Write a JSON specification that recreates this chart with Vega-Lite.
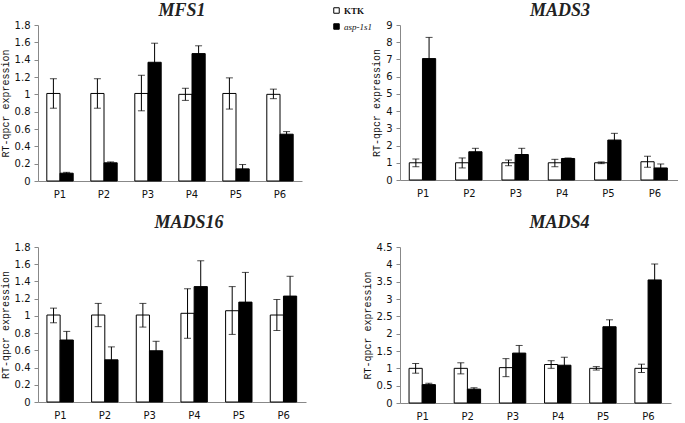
{
  "$schema": "https://vega.github.io/schema/vega-lite/v6.json",
  "background": "white",
  "padding": {"left": 0, "top": 2, "right": 0, "bottom": 0},
  "data": {"values": [
    {"gene": "MFS1", "pos": "P1", "g": "KTK", "m": 1.01, "lo": 0.84, "hi": 1.18},
    {"gene": "MFS1", "pos": "P2", "g": "KTK", "m": 1.01, "lo": 0.84, "hi": 1.18},
    {"gene": "MFS1", "pos": "P3", "g": "KTK", "m": 1.01, "lo": 0.81, "hi": 1.22},
    {"gene": "MFS1", "pos": "P4", "g": "KTK", "m": 1.0, "lo": 0.93, "hi": 1.07},
    {"gene": "MFS1", "pos": "P5", "g": "KTK", "m": 1.01, "lo": 0.83, "hi": 1.19},
    {"gene": "MFS1", "pos": "P6", "g": "KTK", "m": 1.0, "lo": 0.95, "hi": 1.06},
    {"gene": "MFS1", "pos": "P1", "g": "asp-1s1", "m": 0.09, "lo": 0.08, "hi": 0.1},
    {"gene": "MFS1", "pos": "P2", "g": "asp-1s1", "m": 0.21, "lo": 0.2, "hi": 0.22},
    {"gene": "MFS1", "pos": "P3", "g": "asp-1s1", "m": 1.37, "lo": 1.15, "hi": 1.59},
    {"gene": "MFS1", "pos": "P4", "g": "asp-1s1", "m": 1.47, "lo": 1.38, "hi": 1.56},
    {"gene": "MFS1", "pos": "P5", "g": "asp-1s1", "m": 0.14, "lo": 0.09, "hi": 0.19},
    {"gene": "MFS1", "pos": "P6", "g": "asp-1s1", "m": 0.54, "lo": 0.51, "hi": 0.57},
    {"gene": "MADS3", "pos": "P1", "g": "KTK", "m": 1.0, "lo": 0.77, "hi": 1.22},
    {"gene": "MADS3", "pos": "P2", "g": "KTK", "m": 1.0, "lo": 0.7, "hi": 1.28},
    {"gene": "MADS3", "pos": "P3", "g": "KTK", "m": 1.0, "lo": 0.83, "hi": 1.16},
    {"gene": "MADS3", "pos": "P4", "g": "KTK", "m": 1.0, "lo": 0.77, "hi": 1.2},
    {"gene": "MADS3", "pos": "P5", "g": "KTK", "m": 1.0, "lo": 0.95, "hi": 1.05},
    {"gene": "MADS3", "pos": "P6", "g": "KTK", "m": 1.06, "lo": 0.74, "hi": 1.38},
    {"gene": "MADS3", "pos": "P1", "g": "asp-1s1", "m": 7.05, "lo": 5.82, "hi": 8.28},
    {"gene": "MADS3", "pos": "P2", "g": "asp-1s1", "m": 1.64, "lo": 1.44, "hi": 1.84},
    {"gene": "MADS3", "pos": "P3", "g": "asp-1s1", "m": 1.48, "lo": 1.12, "hi": 1.84},
    {"gene": "MADS3", "pos": "P4", "g": "asp-1s1", "m": 1.25, "lo": 1.22, "hi": 1.28},
    {"gene": "MADS3", "pos": "P5", "g": "asp-1s1", "m": 2.32, "lo": 1.93, "hi": 2.71},
    {"gene": "MADS3", "pos": "P6", "g": "asp-1s1", "m": 0.7, "lo": 0.47, "hi": 0.93},
    {"gene": "MADS16", "pos": "P1", "g": "KTK", "m": 1.01, "lo": 0.92, "hi": 1.09},
    {"gene": "MADS16", "pos": "P2", "g": "KTK", "m": 1.01, "lo": 0.875, "hi": 1.145},
    {"gene": "MADS16", "pos": "P3", "g": "KTK", "m": 1.01, "lo": 0.87, "hi": 1.145},
    {"gene": "MADS16", "pos": "P4", "g": "KTK", "m": 1.03, "lo": 0.74, "hi": 1.315},
    {"gene": "MADS16", "pos": "P5", "g": "KTK", "m": 1.06, "lo": 0.785, "hi": 1.34},
    {"gene": "MADS16", "pos": "P6", "g": "KTK", "m": 1.01, "lo": 0.83, "hi": 1.19},
    {"gene": "MADS16", "pos": "P1", "g": "asp-1s1", "m": 0.72, "lo": 0.62, "hi": 0.82},
    {"gene": "MADS16", "pos": "P2", "g": "asp-1s1", "m": 0.49, "lo": 0.33, "hi": 0.64},
    {"gene": "MADS16", "pos": "P3", "g": "asp-1s1", "m": 0.595, "lo": 0.485, "hi": 0.705},
    {"gene": "MADS16", "pos": "P4", "g": "asp-1s1", "m": 1.34, "lo": 1.04, "hi": 1.64},
    {"gene": "MADS16", "pos": "P5", "g": "asp-1s1", "m": 1.16, "lo": 0.81, "hi": 1.505},
    {"gene": "MADS16", "pos": "P6", "g": "asp-1s1", "m": 1.23, "lo": 0.99, "hi": 1.46},
    {"gene": "MADS4", "pos": "P1", "g": "KTK", "m": 1.0, "lo": 0.86, "hi": 1.14},
    {"gene": "MADS4", "pos": "P2", "g": "KTK", "m": 1.0, "lo": 0.84, "hi": 1.16},
    {"gene": "MADS4", "pos": "P3", "g": "KTK", "m": 1.02, "lo": 0.76, "hi": 1.28},
    {"gene": "MADS4", "pos": "P4", "g": "KTK", "m": 1.11, "lo": 1.0, "hi": 1.22},
    {"gene": "MADS4", "pos": "P5", "g": "KTK", "m": 1.0, "lo": 0.95, "hi": 1.05},
    {"gene": "MADS4", "pos": "P6", "g": "KTK", "m": 1.0, "lo": 0.88, "hi": 1.12},
    {"gene": "MADS4", "pos": "P1", "g": "asp-1s1", "m": 0.53, "lo": 0.49, "hi": 0.57},
    {"gene": "MADS4", "pos": "P2", "g": "asp-1s1", "m": 0.4, "lo": 0.36, "hi": 0.44},
    {"gene": "MADS4", "pos": "P3", "g": "asp-1s1", "m": 1.44, "lo": 1.22, "hi": 1.66},
    {"gene": "MADS4", "pos": "P4", "g": "asp-1s1", "m": 1.09, "lo": 0.86, "hi": 1.32},
    {"gene": "MADS4", "pos": "P5", "g": "asp-1s1", "m": 2.2, "lo": 2.0, "hi": 2.4},
    {"gene": "MADS4", "pos": "P6", "g": "asp-1s1", "m": 3.55, "lo": 3.09, "hi": 4.01}
  ]},
  "columns": 2,
  "bounds": "flush",
  "spacing": {"row": 66, "column": 94},
  "concat": [
    {
      "title": {"text": "MFS1", "dx": 12, "offset": 0},
      "width": 264, "height": 156,
      "transform": [{"filter": "datum.gene === 'MFS1'"}],
      "encoding": {
        "x": {"field": "pos", "type": "nominal", "title": null, "scale": {"paddingInner": 0.4, "paddingOuter": 0.2}},
        "xOffset": {"field": "g", "type": "nominal", "sort": ["KTK", "asp-1s1"]}
      },
      "layer": [
        {"mark": {"type": "bar", "stroke": "black", "strokeWidth": 1},
         "encoding": {
           "y": {"field": "m", "type": "quantitative", "title": "RT-qpcr expression", "scale": {"domain": [0, 1.8]}, "axis": {"values": [0, 0.2, 0.4, 0.6, 0.8, 1, 1.2, 1.4, 1.6, 1.8], "format": "~g"}},
           "fill": {"field": "g", "type": "nominal", "scale": {"domain": ["KTK", "asp-1s1"], "range": ["white", "black"]},
             "legend": {"orient": "none", "legendX": 294, "legendY": -19, "title": null, "symbolType": "square", "symbolSize": 30, "symbolStrokeColor": "black", "symbolStrokeWidth": 1, "labelFont": "Liberation Serif", "labelFontSize": 9, "labelColor": "#111", "rowPadding": 5, "labelOffset": 3, "padding": 0,
               "encode": {"labels": {"update": {"fontStyle": {"signal": "datum.label === 'asp-1s1' ? 'italic' : 'normal'"}, "fontWeight": {"signal": "datum.label === 'KTK' ? 'bold' : 'normal'"}}}}}}
         }},
        {"mark": {"type": "rule", "color": "black", "strokeWidth": 1},
         "encoding": {"y": {"field": "lo", "type": "quantitative", "title": "RT-qpcr expression", "scale": {"domain": [0, 1.8]}, "axis": {"values": [0, 0.2, 0.4, 0.6, 0.8, 1, 1.2, 1.4, 1.6, 1.8], "format": "~g"}}, "y2": {"field": "hi"}}},
        {"mark": {"type": "tick", "color": "black", "size": 7, "thickness": 1},
         "encoding": {"y": {"field": "hi", "type": "quantitative", "title": "RT-qpcr expression", "scale": {"domain": [0, 1.8]}, "axis": {"values": [0, 0.2, 0.4, 0.6, 0.8, 1, 1.2, 1.4, 1.6, 1.8], "format": "~g"}}}},
        {"mark": {"type": "tick", "color": "black", "size": 7, "thickness": 1},
         "encoding": {"y": {"field": "lo", "type": "quantitative", "title": "RT-qpcr expression", "scale": {"domain": [0, 1.8]}, "axis": {"values": [0, 0.2, 0.4, 0.6, 0.8, 1, 1.2, 1.4, 1.6, 1.8], "format": "~g"}}}}
      ]
    },
    {
      "title": {"text": "MADS3", "dx": 21, "offset": 0},
      "width": 278, "height": 155,
      "transform": [{"filter": "datum.gene === 'MADS3'"}],
      "encoding": {
        "x": {"field": "pos", "type": "nominal", "title": null, "scale": {"paddingInner": 0.4, "paddingOuter": 0.2}},
        "xOffset": {"field": "g", "type": "nominal", "sort": ["KTK", "asp-1s1"]}
      },
      "layer": [
        {"mark": {"type": "bar", "stroke": "black", "strokeWidth": 1},
         "encoding": {
           "y": {"field": "m", "type": "quantitative", "title": "RT-qpcr expression", "scale": {"domain": [0, 9]}, "axis": {"values": [0, 1, 2, 3, 4, 5, 6, 7, 8, 9], "format": "~g"}},
           "fill": {"field": "g", "type": "nominal", "scale": {"domain": ["KTK", "asp-1s1"], "range": ["white", "black"]},
             "legend": {"orient": "none", "legendX": 294, "legendY": -19, "title": null, "symbolType": "square", "symbolSize": 30, "symbolStrokeColor": "black", "symbolStrokeWidth": 1, "labelFont": "Liberation Serif", "labelFontSize": 9, "labelColor": "#111", "rowPadding": 5, "labelOffset": 3, "padding": 0,
               "encode": {"labels": {"update": {"fontStyle": {"signal": "datum.label === 'asp-1s1' ? 'italic' : 'normal'"}, "fontWeight": {"signal": "datum.label === 'KTK' ? 'bold' : 'normal'"}}}}}}
         }},
        {"mark": {"type": "rule", "color": "black", "strokeWidth": 1},
         "encoding": {"y": {"field": "lo", "type": "quantitative", "title": "RT-qpcr expression", "scale": {"domain": [0, 9]}, "axis": {"values": [0, 1, 2, 3, 4, 5, 6, 7, 8, 9], "format": "~g"}}, "y2": {"field": "hi"}}},
        {"mark": {"type": "tick", "color": "black", "size": 7, "thickness": 1},
         "encoding": {"y": {"field": "hi", "type": "quantitative", "title": "RT-qpcr expression", "scale": {"domain": [0, 9]}, "axis": {"values": [0, 1, 2, 3, 4, 5, 6, 7, 8, 9], "format": "~g"}}}},
        {"mark": {"type": "tick", "color": "black", "size": 7, "thickness": 1},
         "encoding": {"y": {"field": "lo", "type": "quantitative", "title": "RT-qpcr expression", "scale": {"domain": [0, 9]}, "axis": {"values": [0, 1, 2, 3, 4, 5, 6, 7, 8, 9], "format": "~g"}}}}
      ]
    },
    {
      "title": {"text": "MADS16", "dx": 17, "offset": 10},
      "width": 268, "height": 155,
      "transform": [{"filter": "datum.gene === 'MADS16'"}],
      "encoding": {
        "x": {"field": "pos", "type": "nominal", "title": null, "scale": {"paddingInner": 0.4, "paddingOuter": 0.2}},
        "xOffset": {"field": "g", "type": "nominal", "sort": ["KTK", "asp-1s1"]}
      },
      "layer": [
        {"mark": {"type": "bar", "stroke": "black", "strokeWidth": 1},
         "encoding": {
           "y": {"field": "m", "type": "quantitative", "title": "RT-qpcr expression", "scale": {"domain": [0, 1.8]}, "axis": {"values": [0, 0.2, 0.4, 0.6, 0.8, 1, 1.2, 1.4, 1.6, 1.8], "format": "~g"}},
           "fill": {"field": "g", "type": "nominal", "scale": {"domain": ["KTK", "asp-1s1"], "range": ["white", "black"]},
             "legend": {"orient": "none", "legendX": 294, "legendY": -19, "title": null, "symbolType": "square", "symbolSize": 30, "symbolStrokeColor": "black", "symbolStrokeWidth": 1, "labelFont": "Liberation Serif", "labelFontSize": 9, "labelColor": "#111", "rowPadding": 5, "labelOffset": 3, "padding": 0,
               "encode": {"labels": {"update": {"fontStyle": {"signal": "datum.label === 'asp-1s1' ? 'italic' : 'normal'"}, "fontWeight": {"signal": "datum.label === 'KTK' ? 'bold' : 'normal'"}}}}}}
         }},
        {"mark": {"type": "rule", "color": "black", "strokeWidth": 1},
         "encoding": {"y": {"field": "lo", "type": "quantitative", "title": "RT-qpcr expression", "scale": {"domain": [0, 1.8]}, "axis": {"values": [0, 0.2, 0.4, 0.6, 0.8, 1, 1.2, 1.4, 1.6, 1.8], "format": "~g"}}, "y2": {"field": "hi"}}},
        {"mark": {"type": "tick", "color": "black", "size": 7, "thickness": 1},
         "encoding": {"y": {"field": "hi", "type": "quantitative", "title": "RT-qpcr expression", "scale": {"domain": [0, 1.8]}, "axis": {"values": [0, 0.2, 0.4, 0.6, 0.8, 1, 1.2, 1.4, 1.6, 1.8], "format": "~g"}}}},
        {"mark": {"type": "tick", "color": "black", "size": 7, "thickness": 1},
         "encoding": {"y": {"field": "lo", "type": "quantitative", "title": "RT-qpcr expression", "scale": {"domain": [0, 1.8]}, "axis": {"values": [0, 0.2, 0.4, 0.6, 0.8, 1, 1.2, 1.4, 1.6, 1.8], "format": "~g"}}}}
      ]
    },
    {
      "title": {"text": "MADS4", "dx": 24, "offset": 10},
      "width": 271, "height": 156,
      "transform": [{"filter": "datum.gene === 'MADS4'"}],
      "encoding": {
        "x": {"field": "pos", "type": "nominal", "title": null, "scale": {"paddingInner": 0.4, "paddingOuter": 0.2}},
        "xOffset": {"field": "g", "type": "nominal", "sort": ["KTK", "asp-1s1"]}
      },
      "layer": [
        {"mark": {"type": "bar", "stroke": "black", "strokeWidth": 1},
         "encoding": {
           "y": {"field": "m", "type": "quantitative", "title": "RT-qpcr expression", "scale": {"domain": [0, 4.5]}, "axis": {"values": [0, 0.5, 1, 1.5, 2, 2.5, 3, 3.5, 4, 4.5], "format": "~g"}},
           "fill": {"field": "g", "type": "nominal", "scale": {"domain": ["KTK", "asp-1s1"], "range": ["white", "black"]},
             "legend": {"orient": "none", "legendX": 294, "legendY": -19, "title": null, "symbolType": "square", "symbolSize": 30, "symbolStrokeColor": "black", "symbolStrokeWidth": 1, "labelFont": "Liberation Serif", "labelFontSize": 9, "labelColor": "#111", "rowPadding": 5, "labelOffset": 3, "padding": 0,
               "encode": {"labels": {"update": {"fontStyle": {"signal": "datum.label === 'asp-1s1' ? 'italic' : 'normal'"}, "fontWeight": {"signal": "datum.label === 'KTK' ? 'bold' : 'normal'"}}}}}}
         }},
        {"mark": {"type": "rule", "color": "black", "strokeWidth": 1},
         "encoding": {"y": {"field": "lo", "type": "quantitative", "title": "RT-qpcr expression", "scale": {"domain": [0, 4.5]}, "axis": {"values": [0, 0.5, 1, 1.5, 2, 2.5, 3, 3.5, 4, 4.5], "format": "~g"}}, "y2": {"field": "hi"}}},
        {"mark": {"type": "tick", "color": "black", "size": 7, "thickness": 1},
         "encoding": {"y": {"field": "hi", "type": "quantitative", "title": "RT-qpcr expression", "scale": {"domain": [0, 4.5]}, "axis": {"values": [0, 0.5, 1, 1.5, 2, 2.5, 3, 3.5, 4, 4.5], "format": "~g"}}}},
        {"mark": {"type": "tick", "color": "black", "size": 7, "thickness": 1},
         "encoding": {"y": {"field": "lo", "type": "quantitative", "title": "RT-qpcr expression", "scale": {"domain": [0, 4.5]}, "axis": {"values": [0, 0.5, 1, 1.5, 2, 2.5, 3, 3.5, 4, 4.5], "format": "~g"}}}}
      ]
    }
  ],
  "config": {
    "view": {"stroke": null},
    "axis": {"grid": false, "domainColor": "#888", "tickColor": "#888", "labelFont": "DejaVu Sans", "labelFontSize": 10, "labelColor": "#111", "titleFont": "Liberation Mono", "titleFontSize": 10, "titleFontWeight": "normal", "titleColor": "#111"},
    "axisX": {"ticks": false, "labelAngle": 0, "labelPadding": 8},
    "axisY": {"tickSize": 4, "labelPadding": 4, "titlePadding": 4},
    "title": {"font": "Liberation Serif", "fontStyle": "italic", "fontWeight": "bold", "fontSize": 18, "color": "#222"}
  }
}
